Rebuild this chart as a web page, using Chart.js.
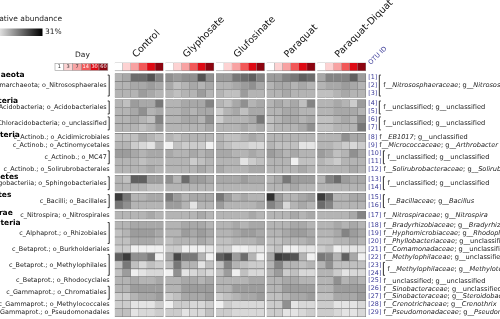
<!DOCTYPE html>
<html>
<head>
<meta charset="utf-8">
<script src="https://cdn.jsdelivr.net/npm/chart.js@4.4.1/dist/chart.umd.min.js"></script>
<style>
  html, body { margin: 0; padding: 0; background: #fff; }
</style>
</head>
<body>
<canvas id="heat" width="500" height="319"></canvas>
<script>
var treatments = ['Control', 'Glyphosate', 'Glufosinate', 'Paraquat', 'Paraquat-Diquat'];
var days = ['1', '3', '7', '14', '30', '60'];

var phyla = ['Thaumarchaeota', 'Acidobacteria', 'Actinobacteria', 'Bacteroidetes', 'Firmicutes', 'Nitrospirae', 'Proteobacteria'];
var phylumRows = [3, 4, 5, 2, 2, 1, 12];

var orderLabels = ['c_Thaumarchaeota; o_Nitrososphaerales', 'c_Acidobacteria; o_Acidobacteriales', 'c_Chloracidobacteria; o_unclassified',
    'c_Actinob.; o_Acidimicrobiales', 'c_Actinob.; o_Actinomycetales', 'c_Actinob.; o_MC47', 'c_Actinob.; o_Solirubrobacterales',
    'c_Sphingobacteriia; o_Sphingobacteriales', 'c_Bacilli; o_Bacillales', 'c_Nitrospira; o_Nitrospirales',
    'c_Alphaprot.; o_Rhizobiales', 'c_Betaprot.; o_Burkholderiales', 'c_Betaprot.; o_Methylophilales', 'c_Betaprot.; o_Rhodocyclales',
    'c_Gammaprot.; o_Chromatiales', 'c_Gammaprot.; o_Methylococcales', 'c_Gammaprot.; o_Pseudomonadales'];
var orderSpan = [3, 2, 2, 1, 1, 2, 1, 2, 2, 1, 3, 1, 3, 1, 2, 1, 1];

var otuFamily = ['Nitrososphaeraceae', 'unclassified', 'unclassified', 'EB1017', 'Micrococcaceae', 'unclassified', 'Solirubrobacteraceae',
    'unclassified', 'Bacillaceae', 'Nitrospiraceae', 'Bradyrhizobiaceae', 'Hyphomicrobiaceae', 'Phyllobacteriaceae', 'Comamonadaceae',
    'Methylophilaceae', 'Methylophilaceae', 'unclassified', 'Sinobacteraceae', 'Sinobacteraceae', 'Crenotrichaceae', 'Pseudomonadaceae'];
var otuGenus = ['Nitrososphaera', 'unclassified', 'unclassified', 'unclassified', 'Arthrobacter', 'unclassified', 'Solirubrobacter',
    'unclassified', 'Bacillus', 'Nitrospira', 'Bradyrhizobium', 'Rhodoplanes', 'unclassified', 'unclassified',
    'unclassified', 'Methylotenera', 'unclassified', 'unclassified', 'Steroidobacter', 'Crenothrix', 'Pseudomonas'];
var otuSpan = [3, 2, 2, 1, 1, 2, 1, 2, 2, 1, 1, 1, 1, 1, 1, 2, 1, 1, 1, 1, 1];

// shade of each cell, 0 = white ... 10 = black (rows = OTU 1..29, cols = day 1..60)
var control = [
    [3, 3.5, 6, 6, 7, 5], [3, 3, 3.5, 3.5, 4, 3.5], [3, 3, 3, 4, 3.5, 3],
    [3, 2.5, 4, 3.5, 3.5, 5.5], [3, 3, 3.5, 4.5, 3, 3.5], [3, 3, 3.5, 3, 2.5, 5], [3, 3, 3, 2.5, 3, 4],
    [2.5, 2.5, 2.5, 3.5, 3, 2.5], [3, 3, 2, 1.5, 1, 3], [4, 4, 3.5, 3, 3.5, 3.5], [3, 3, 3, 2.5, 3, 3], [3, 3, 3, 3, 3.5, 3],
    [3, 2.5, 6.5, 6.5, 4, 4], [3, 3, 3, 3, 2.5, 2.5],
    [8, 5.5, 3, 3, 3.5, 3.5], [5.5, 4.5, 3, 3, 3, 3],
    [3, 3, 3, 3, 3.5, 3],
    [3, 3, 3.5, 3.5, 3.5, 3.5], [2.5, 3, 4, 4, 4, 3.5], [2.5, 2.5, 3.5, 3.5, 3.5, 3], [2, 2, 0.5, 0.5, 0.5, 0.5],
    [6.5, 8, 4.5, 4.5, 5.5, 0.5], [2.5, 5.5, 2.5, 1.5, 2.5, 2], [2.5, 4, 0.5, 1, 1.5, 1.5], [3, 3, 3.5, 3, 3, 3.5],
    [3, 3, 4, 4, 4, 4], [2, 2, 3, 3.5, 3.5, 4], [2, 2, 1, 1, 1, 2], [2.5, 2.5, 1, 1.5, 1.5, 2]
];
var glyphosate = [
    [4.5, 4, 4.5, 4.5, 7, 4.5], [3.5, 2.5, 3, 3.5, 3, 3.5], [3, 2.5, 3, 3, 4, 3],
    [3, 3, 3.5, 3.5, 3.5, 5], [3, 3, 3.5, 3, 3.5, 3.5], [3, 3, 3.5, 3.5, 3, 4.5], [3, 3, 3, 3, 3, 3.5],
    [3, 2.5, 3, 3, 3, 3], [0.5, 2.5, 2, 2, 2, 0.5], [3.5, 3, 3, 3.5, 3, 3.5], [3, 3, 3, 2, 2.5, 3], [3, 3, 3, 3, 3.5, 3],
    [4.5, 3, 6, 4, 4, 3.5], [3, 3, 3, 3, 3, 3],
    [5.5, 4, 3, 3.5, 3.5, 3.5], [4, 4, 3, 1, 3, 3],
    [3, 3, 3, 3, 3.5, 3],
    [3, 3, 3.5, 3.5, 3.5, 3], [3, 3, 4, 3.5, 4, 3.5], [2.5, 3, 3, 3, 3.5, 3], [2, 2, 0.5, 0.5, 0.5, 1],
    [3.5, 7.5, 5.5, 5.5, 3, 0.5], [2.5, 5.5, 3, 3, 1, 2.5], [0.5, 4.5, 1, 1.5, 2, 1.5], [3, 3, 3.5, 3.5, 3, 3.5],
    [3, 3, 4, 4, 4, 4], [2, 2.5, 3.5, 3.5, 3.5, 4], [0.5, 2, 2, 1.5, 1.5, 2], [2, 2, 1, 1.5, 1.5, 2.5]
];
var glufosinate = [
    [4, 4, 5.5, 6, 6.5, 5], [3, 3, 3.5, 4, 4.5, 3.5], [3, 2.5, 2.5, 4, 3, 3],
    [3, 2.5, 3.5, 4.5, 3, 3.5], [2, 3, 3.5, 2.5, 3.5, 3.5], [2, 3, 3, 3, 3.5, 5.5], [3, 3, 3, 3.5, 3, 3.5],
    [3, 2.5, 2.5, 3, 3.5, 3], [3, 2.5, 2, 2, 1.5, 1.5], [3.5, 3.5, 3, 3, 3.5, 3], [3, 3, 3, 1, 2, 2.5], [3.5, 3, 3, 3, 3.5, 3.5],
    [3.5, 3.5, 3.5, 4, 3.5, 3.5], [3, 3, 3, 3, 3, 3],
    [5.5, 4, 3, 3.5, 3, 3], [4, 3, 3, 3, 3, 3.5],
    [3, 3, 3, 3, 3.5, 3],
    [3, 3, 3.5, 3, 3.5, 3.5], [3, 3, 3.5, 4, 4, 3.5], [2.5, 2.5, 3, 3, 3, 3.5], [2, 2, 0.5, 0.5, 1, 1],
    [6.5, 7.5, 4, 6, 3, 0.5], [2.5, 5, 3, 2.5, 2, 2], [2.5, 4, 0.5, 2.5, 1.5, 1.5], [3, 3, 3, 3, 3.5, 3.5],
    [3, 3, 4, 4, 4, 4], [2, 2.5, 3, 3.5, 3.5, 4], [0.5, 2, 1.5, 1.5, 1.5, 1.5], [2, 2, 1.5, 1.5, 1.5, 1.5]
];
var paraquat = [
    [4, 4, 5, 5.5, 6.5, 6], [3, 3.5, 3.5, 3, 3.5, 3], [3, 3, 3.5, 3, 3, 3],
    [3, 3.5, 3, 3.5, 2.5, 5], [3, 3, 3.5, 3.5, 3, 3], [2.5, 3, 3.5, 3.5, 3, 3.5], [2.5, 3, 3, 3, 3.5, 4.5],
    [3, 3, 3, 3, 3, 3], [3, 2.5, 2.5, 2.5, 1, 1], [4, 3.5, 3, 3.5, 3, 3], [3, 3, 3, 0.5, 2.5, 2.5], [3, 3, 3, 3, 3.5, 3],
    [3, 3.5, 5.5, 4, 4, 4], [3, 3, 3, 3.5, 3, 3],
    [8.5, 4, 3, 3, 3.5, 4], [5, 4, 1.5, 3, 3.5, 3],
    [3, 3, 3, 3.5, 3, 3.5],
    [3, 3, 3, 3.5, 3.5, 3], [3, 3, 3.5, 4, 4, 3.5], [2.5, 2.5, 3, 3, 3, 3.5], [2, 2.5, 0.5, 0.5, 1, 1],
    [3.5, 8, 7.5, 7, 3, 0.5], [3, 5, 3, 3, 2.5, 3], [3, 4, 2, 2.5, 1.5, 1.5], [3, 3, 3.5, 3.5, 3, 3],
    [3, 3, 4, 4, 4, 4], [2.5, 2.5, 3, 3.5, 3.5, 4], [2, 2, 4.5, 1, 1.5, 1.5], [2, 2, 1, 1, 1.5, 2]
];
var paraquatDiquat = [
    [3.5, 5, 5, 5, 6.5, 4], [3, 3.5, 3.5, 4, 3.5, 3], [2.5, 2.5, 3, 3.5, 3, 3],
    [3, 3, 3.5, 3, 2, 4], [3, 3, 3.5, 3.5, 3.5, 3], [2.5, 2.5, 3, 3.5, 3, 4.5], [2.5, 2.5, 3, 3, 3, 5.5],
    [3, 3, 3, 4.5, 3.5, 3.5], [3, 3, 2.5, 2, 1.5, 2], [4, 3.5, 2.5, 3, 4.5, 3.5], [3, 2.5, 2, 3, 3, 3], [3, 3, 3, 3, 3.5, 3],
    [3, 5, 6, 4, 3.5, 3.5], [3, 3, 3, 3, 3, 3],
    [8, 6, 3, 3, 3.5, 3.5], [6, 5, 3, 3, 3, 3],
    [3, 3, 3, 3, 3.5, 5],
    [3, 3, 3.5, 3, 3.5, 3], [3, 3, 3.5, 5, 4, 3.5], [2.5, 2.5, 3, 3, 3.5, 3], [2, 2.5, 0.5, 1, 1, 1],
    [5.5, 5, 3, 6.5, 3.5, 0.5], [3, 4.5, 2.5, 2.5, 2.5, 2.5], [3, 3, 2, 1, 1.5, 1.5], [3, 3, 4.5, 3, 3.5, 3],
    [3, 3, 4, 4, 4, 4], [2.5, 2.5, 3.5, 3.5, 3.5, 4], [2, 2, 1, 1, 1, 1.5], [2, 2, 1.5, 1, 1, 1.5]
];
var shades = [control, glyphosate, glufosinate, paraquat, paraquatDiquat];

var dayColors = ['#ffffff', '#fdd2d2', '#f8a2a2', '#f25858', '#de0a14', '#8c0410'];
var maxLabel = '31%';

// grid units: one cell = 1, gaps between blocks = GAP
var GAP = 0.25;
var HEADER_Y = -0.85;
var X_MIN = -14.16, X_MAX = 47.57;
var Y_MIN = -9.235, Y_MAX = 30.79;

var rowGroup = [];
phylumRows.forEach(function (n, k) {
    for (var j = 0; j < n; j++) rowGroup.push(k);
});
function rowStart(i) { return i + rowGroup[i] * GAP; }
function colStart(g, d) { return g * (days.length + GAP) + d; }

function grayOf(v) {
    var c = Math.round(252 - v * 24);
    return 'rgb(' + c + ',' + c + ',' + c + ')';
}

var cellData = [];
shades.forEach(function (rows, g) {
    rows.forEach(function (vals, i) {
        vals.forEach(function (v, d) {
            cellData.push({ y: rowStart(i) + 0.5, x: [colStart(g, d), colStart(g, d) + 1], v: v });
        });
    });
});

var headerData = [];
treatments.forEach(function (t, g) {
    days.forEach(function (day, d) {
        headerData.push({ y: HEADER_Y, x: [colStart(g, d), colStart(g, d) + 1], d: d });
    });
});

var FONT = '"DejaVu Sans", Verdana, sans-serif';
var BLUE = '#3c3c98';

function drawRich(ctx, x, y, parts) {
    parts.forEach(function (p) {
        ctx.font = (p[1] ? 'italic ' : '') + (p[3] || '6.6px ') + FONT;
        ctx.fillStyle = p[2] || '#222';
        ctx.fillText(p[0], x, y);
        x += ctx.measureText(p[0]).width;
    });
}

var labelPlugin = {
    id: 'labels',
    afterDraw: function (chart) {
        var ctx = chart.ctx;
        var xs = chart.scales.x, ys = chart.scales.y;
        var gridLeft = xs.getPixelForValue(0);
        var gridRight = xs.getPixelForValue(colStart(treatments.length - 1, days.length));
        function rowTop(i) { return ys.getPixelForValue(rowStart(i)); }
        function rowBottom(i) { return ys.getPixelForValue(rowStart(i) + 1); }

        ctx.save();
        ctx.textBaseline = 'middle';

        // colour key
        ctx.font = '7.5px ' + FONT;
        ctx.fillStyle = '#222';
        ctx.textAlign = 'right';
        ctx.fillText('Relative abundance', 62, 19);
        var grad = ctx.createLinearGradient(-6, 0, 42, 0);
        grad.addColorStop(0, '#ffffff');
        grad.addColorStop(1, '#000000');
        ctx.fillStyle = grad;
        ctx.fillRect(-6, 28.5, 48.5, 7.5);
        ctx.fillStyle = '#222';
        ctx.textAlign = 'left';
        ctx.fillText(maxLabel, 45, 32.5);

        // day key
        ctx.textAlign = 'center';
        ctx.fillText('Day', 82.5, 55);
        var bw = 8.8;
        days.forEach(function (day, d) {
            var bx = 55 + d * bw;
            ctx.fillStyle = dayColors[d];
            ctx.fillRect(bx, 63.5, bw, 7);
            ctx.strokeStyle = '#999';
            ctx.lineWidth = 0.6;
            ctx.strokeRect(bx, 63.5, bw, 7);
            ctx.font = '5px ' + FONT;
            ctx.fillStyle = d < 3 ? '#333' : '#fff';
            ctx.fillText(day, bx + bw / 2, 67.2);
        });

        // treatment names
        ctx.font = '9.5px ' + FONT;
        ctx.fillStyle = '#111';
        ctx.textAlign = 'left';
        ctx.textBaseline = 'alphabetic';
        treatments.forEach(function (t, g) {
            var cx = xs.getPixelForValue(colStart(g, days.length / 2));
            ctx.save();
            ctx.translate(cx - 3, 58);
            ctx.rotate(-Math.PI / 4);
            ctx.fillText(t, 0, 0);
            ctx.restore();
        });
        ctx.save();
        ctx.font = '6.5px ' + FONT;
        ctx.fillStyle = BLUE;
        ctx.translate(gridRight + 5, 65);
        ctx.rotate(-Math.PI / 4);
        ctx.fillText('OTU ID', 0, 0);
        ctx.restore();
        ctx.textBaseline = 'middle';

        // phylum names
        ctx.font = 'bold 7.5px ' + FONT;
        ctx.fillStyle = '#000';
        ctx.textAlign = 'center';
        var r = 0;
        phyla.forEach(function (p, k) {
            ctx.fillText(p, -11, rowTop(r) + 1.5);
            r += phylumRows[k];
        });

        // class / order labels
        ctx.font = '6.4px ' + FONT;
        ctx.fillStyle = '#222';
        ctx.textAlign = 'right';
        ctx.strokeStyle = '#333';
        ctx.lineWidth = 1;
        r = 0;
        orderLabels.forEach(function (lab, j) {
            var n = orderSpan[j];
            var yc = (rowTop(r) + rowBottom(r + n - 1)) / 2;
            if (n > 1) {
                ctx.fillText(lab, gridLeft - 8, yc);
                var bx = gridLeft - 5.5;
                ctx.beginPath();
                ctx.moveTo(bx - 1.5, rowTop(r) + 1.5);
                ctx.lineTo(bx, rowTop(r) + 1.5);
                ctx.lineTo(bx, rowBottom(r + n - 1) - 1.5);
                ctx.lineTo(bx - 1.5, rowBottom(r + n - 1) - 1.5);
                ctx.stroke();
            } else {
                ctx.fillText(lab, gridLeft - 5, yc);
            }
            r += n;
        });

        // OTU labels
        ctx.textAlign = 'left';
        var idX = gridRight + 2.5;
        var idFont = '6.4px ';
        r = 0;
        otuFamily.forEach(function (fam, j) {
            var n = otuSpan[j];
            var parts = [['f__', false], [fam, fam !== 'unclassified'], ['; g__', false], [otuGenus[j], otuGenus[j] !== 'unclassified']];
            var yc = (rowTop(r) + rowBottom(r + n - 1)) / 2;
            if (n > 1) {
                var wMax = 0;
                for (var i = 0; i < n; i++) {
                    var idTxt = '[' + (r + i + 1) + ']';
                    ctx.font = idFont + FONT;
                    ctx.fillStyle = BLUE;
                    ctx.fillText(idTxt, idX, (rowTop(r + i) + rowBottom(r + i)) / 2);
                    wMax = Math.max(wMax, ctx.measureText(idTxt).width);
                }
                var bx = idX + wMax + 2;
                ctx.strokeStyle = '#333';
                ctx.lineWidth = 1;
                ctx.beginPath();
                ctx.moveTo(bx + 1.5, rowTop(r) + 1.5);
                ctx.lineTo(bx, rowTop(r) + 1.5);
                ctx.lineTo(bx, rowBottom(r + n - 1) - 1.5);
                ctx.lineTo(bx + 1.5, rowBottom(r + n - 1) - 1.5);
                ctx.stroke();
                drawRich(ctx, bx + 4, yc, parts);
            } else {
                drawRich(ctx, idX, yc, [['[' + (r + 1) + '] ', false, BLUE, idFont]].concat(parts));
            }
            r += n;
        });

        ctx.restore();
    }
};

var ctx = document.getElementById('heat').getContext('2d');
var chart = new Chart(ctx, {
    type: 'bar',
    data: {
        datasets: [{
            data: cellData,
            grouped: false,
            backgroundColor: function (c) { return grayOf(c.raw ? c.raw.v : 0); },
            borderColor: '#767676',
            borderWidth: 0.6,
            barPercentage: 1,
            categoryPercentage: 1
        }, {
            data: headerData,
            grouped: false,
            backgroundColor: function (c) { return dayColors[c.raw ? c.raw.d : 0]; },
            borderColor: '#8a8a8a',
            borderWidth: 0.6,
            barPercentage: 1,
            categoryPercentage: 1
        }]
    },
    options: {
        indexAxis: 'y',
        responsive: false,
        animation: false,
        events: [],
        layout: { padding: 0 },
        scales: {
            x: { type: 'linear', min: X_MIN, max: X_MAX, display: false },
            y: {
                type: 'linear', reverse: true, min: Y_MIN, max: Y_MAX, display: false,
                afterBuildTicks: function (axis) { axis.ticks = []; }
            }
        },
        plugins: {
            legend: { display: false },
            tooltip: { enabled: false }
        }
    },
    plugins: [labelPlugin]
});
</script>
</body>
</html>
